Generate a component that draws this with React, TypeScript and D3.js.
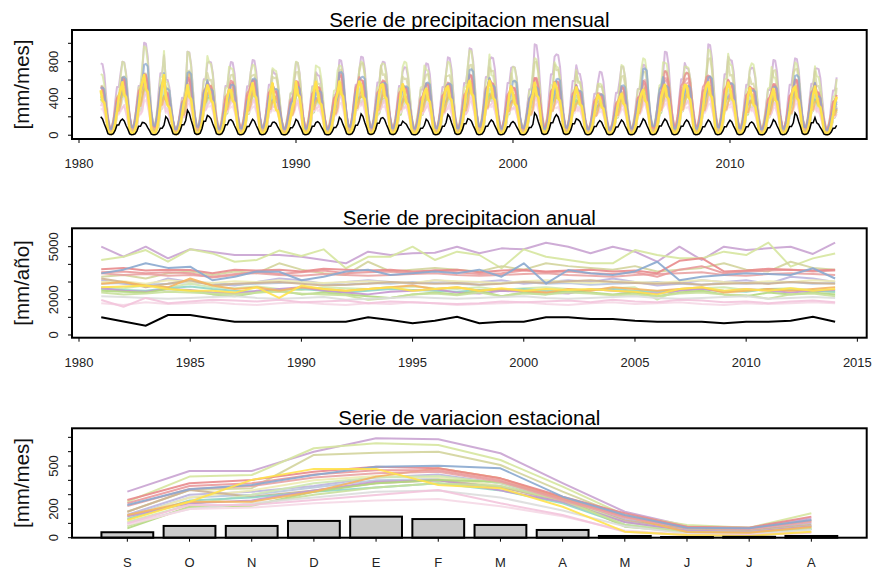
import React, { useRef, useEffect } from "react";
import * as d3 from "d3";

const years = d3.range(1981, 2015);
const monthLabels = ["S", "O", "N", "D", "E", "F", "M", "A", "M", "J", "J", "A"];

// pico mensual de cada año (envolvente superior del panel mensual)
const peakByYear = [782, 800, 1006, 608, 909, 800, 796, 818, 709, 800, 745, 818, 854, 800, 800, 782, 847,
  945, 847, 745, 989, 880, 673, 690, 763, 836, 909, 745, 989, 818, 782, 818, 836, 727];

// serie de referencia (negro / barras)
const seasBlack = [38, 82, 82, 117, 147, 130, 89, 54, 12, 5, 6, 12];
const annBlack = [1000, 760, 530, 1130, 1130, 930, 755, 755, 755, 755, 755, 755, 1000, 850, 661, 812, 1038,
  661, 755, 755, 1000, 1000, 906, 906, 812, 755, 755, 755, 661, 755, 755, 812, 1038, 755];

// estaciones (ciclo estacional S..A y total anual 1981-2014)
const seasLavender = [321, 465, 465, 600, 694, 687, 589, 380, 181, 82, 70, 135];
const annLavender = [5000, 4434, 5000, 4342, 4853, 4700, 4530, 4530, 4530, 4434, 4250, 4060, 4717, 4530, 4625, 4660, 5000,
  4625, 4906, 4853, 5226, 5000, 4625, 5000, 4717, 4150, 5000, 4250, 5000, 4810, 4906, 5000, 4590, 5226];
const seasYGreen = [251, 426, 437, 624, 658, 647, 542, 356, 158, 89, 70, 170];
const annYGreen = [4250, 4430, 4810, 4150, 4850, 4620, 4150, 4250, 4780, 4470, 4850, 3780, 4430, 4430, 5000, 4250, 4720,
  4530, 3780, 4850, 4430, 4250, 4060, 4060, 4810, 4530, 4340, 4340, 4720, 4530, 5230, 3870, 4340, 4620];
const seasKhaki = [181, 333, 345, 577, 593, 600, 507, 321, 147, 77, 70, 120];
const annKhaki = [3300, 3400, 3200, 3500, 3600, 3400, 3600, 3500, 4060, 3700, 3500, 3400, 4150, 3600, 3700, 3800, 3700,
  3600, 3900, 3700, 4060, 3900, 3800, 3700, 3900, 3600, 3700, 3800, 4060, 3700, 3600, 4150, 3800, 3700];
const seasRed1 = [263, 380, 403, 460, 495, 484, 414, 286, 170, 77, 70, 147];
const annRed1 = [3720, 3800, 3650, 3700, 3680, 3500, 3700, 3650, 3700, 3600, 3750, 3700, 3650, 3700, 3600, 3650, 3700,
  3550, 3650, 3700, 3600, 3650, 3700, 3600, 3650, 3500, 4200, 4350, 3600, 3650, 3750, 3700, 3650, 3700];
const seasRed2 = [240, 360, 380, 440, 470, 470, 400, 270, 150, 70, 65, 120];
const annRed2 = [3550, 3600, 3500, 3550, 3500, 3250, 3400, 3600, 3450, 3550, 3650, 3500, 3550, 3600, 3500, 3650, 3550,
  3450, 3500, 3650, 3550, 3600, 3500, 3450, 3550, 3300, 3700, 3900, 3500, 3600, 3650, 3700, 3600, 3650];
const seasRed3 = [220, 340, 360, 420, 450, 460, 390, 260, 140, 70, 60, 110];
const annRed3 = [3500, 3400, 3450, 3350, 3400, 3300, 3450, 3500, 3400, 3350, 3450, 3400, 3350, 3400, 3450, 3500, 3400,
  3350, 3400, 3450, 3500, 3400, 3350, 3300, 3400, 3450, 3500, 3550, 3400, 3350, 3450, 3500, 3450, 3400];
const seasBlue = [228, 338, 368, 437, 495, 502, 484, 286, 158, 70, 66, 123];
const annBlue = [3490, 3700, 4060, 3800, 3870, 3100, 3300, 3600, 3580, 3100, 3300, 3600, 3700, 3400, 3500, 3600, 3500,
  3700, 3300, 4060, 2910, 3680, 3500, 3400, 3600, 4150, 3100, 3300, 3400, 3500, 3450, 3400, 3780, 3200];
const seasLilac = [160, 300, 320, 360, 420, 440, 380, 250, 130, 60, 50, 100];
const annLilac = [3100, 2900, 2800, 3200, 3000, 2900, 2800, 3000, 3200, 3100, 2900, 3000, 3100, 3000, 2900, 3100, 3000,
  3000, 3100, 2900, 3000, 3100, 3000, 3200, 3000, 2800, 2900, 3100, 3000, 3100, 2900, 3300, 3200, 3000];
const seasSteel = [150, 280, 300, 350, 400, 410, 360, 250, 110, 50, 40, 80];
const annSteel = [2900, 2950, 2850, 2900, 3000, 2950, 2850, 2900, 2950, 3000, 2900, 2850, 2950, 2900, 3000, 2950, 2900,
  2850, 2950, 3000, 2900, 2950, 2850, 2900, 2950, 3000, 2900, 2850, 2950, 2900, 2950, 3000, 2900, 2950];
const seasOrange = [158, 251, 251, 321, 426, 484, 414, 275, 147, 40, 35, 75];
const annOrange = [2900, 3000, 2800, 2700, 3200, 2800, 2600, 2700, 2500, 2700, 2600, 2500, 2600, 2700, 2800, 2600, 2700,
  2500, 2600, 2500, 2400, 2600, 2500, 2700, 2600, 2500, 2600, 2700, 2400, 2500, 2600, 2500, 2600, 2700];
const seasTan = [181, 333, 286, 330, 380, 400, 350, 260, 120, 60, 50, 90];
const annTan = [3200, 3000, 2700, 2900, 3100, 2800, 2900, 2950, 3000, 2900, 2800, 2850, 2900, 3000, 2950, 2900, 2950,
  2850, 2900, 3000, 2950, 3050, 3100, 3000, 2950, 2900, 2950, 2850, 2900, 2950, 2900, 3000, 2950, 2900];
const seasLtYellow = [140, 280, 330, 400, 430, 420, 360, 250, 110, 50, 40, 90];
const annLtYellow = [3000, 3050, 2900, 3100, 3000, 2950, 3050, 3000, 3100, 3000, 2950, 3000, 3050, 3000, 2950, 3100, 3050,
  3000, 2950, 3050, 3100, 3000, 2950, 3050, 3000, 2950, 3050, 3100, 3000, 2950, 3050, 3000, 3100, 3050];
const seasLtGreen = [110, 230, 300, 380, 420, 430, 380, 270, 110, 50, 40, 80];
const annLtGreen = [2700, 2650, 2800, 2700, 2900, 2700, 2650, 2750, 2600, 2550, 2700, 2650, 2600, 2700, 2750, 2650, 2600,
  2700, 2550, 2650, 2700, 2600, 2550, 2650, 2700, 2000, 2600, 2650, 2700, 2550, 2600, 2650, 2550, 2400];
const seasTeal = [130, 260, 280, 320, 350, 380, 330, 240, 90, 40, 30, 60];
const annTeal = [2600, 2550, 2500, 2650, 2750, 2600, 2500, 2450, 2550, 2600, 2500, 2400, 2500, 2600, 2550, 2500, 2450,
  2550, 2500, 2600, 2500, 2450, 2550, 2600, 2500, 2450, 2550, 2600, 2500, 2450, 2600, 2550, 2500, 2450];
const seasPurple = [150, 240, 260, 330, 390, 400, 330, 250, 110, 50, 40, 80];
const annPurple = [2650, 2500, 2450, 2600, 2550, 2400, 2350, 2500, 2600, 2700, 2500, 2400, 2300, 2450, 2500, 2600, 2400,
  2350, 2500, 2450, 2400, 2350, 2600, 2500, 2400, 2350, 2500, 2600, 2450, 2600, 2500, 2400, 2500, 2550];
const seasGreen = [65, 216, 222, 321, 380, 403, 391, 275, 77, 40, 30, 60];
const annGreen = [2500, 2450, 2400, 2600, 2500, 2300, 2200, 2400, 2500, 2300, 2400, 2300, 2200, 2100, 2300, 2400, 2300,
  2500, 2200, 2400, 2300, 2500, 2400, 2300, 2400, 2200, 2400, 2500, 2300, 2200, 2400, 2300, 2400, 2300];
const seasLime = [80, 210, 230, 300, 350, 380, 360, 260, 90, 40, 35, 70];
const annLime = [2400, 2300, 2350, 2450, 2400, 2350, 2300, 2400, 2450, 2350, 2300, 2250, 2000, 2100, 2300, 2350, 2250,
  2400, 2200, 2350, 2300, 2400, 2350, 2250, 2300, 2200, 2350, 2400, 2300, 2250, 2050, 2300, 2350, 2200];
const seasGray = [100, 200, 240, 280, 320, 330, 280, 190, 80, 30, 25, 55];
const annGray = [2200, 2150, 2100, 2050, 2100, 2150, 2200, 2100, 2050, 2100, 2150, 2000, 2050, 2100, 2150, 2100, 2050,
  2100, 2150, 2200, 2100, 2050, 2100, 2150, 2200, 2100, 2050, 2100, 2150, 2200, 2050, 2100, 2150, 2100];
const seasPink = [100, 228, 228, 263, 298, 333, 240, 158, 42, 19, 19, 35];
const annPink = [1980, 1600, 2100, 1800, 1900, 2000, 1950, 1900, 2000, 1850, 1900, 1950, 1800, 1900, 1850, 1800, 1750,
  1800, 1900, 1850, 1900, 1950, 1850, 2000, 1900, 1850, 2000, 1950, 1850, 1900, 1800, 1900, 1950, 1850];
const seasLtPink = [90, 200, 210, 240, 260, 270, 220, 150, 50, 20, 20, 40];
const annLtPink = [1800, 1700, 1850, 1750, 1800, 1850, 1750, 1700, 1800, 1850, 1750, 1700, 1800, 1750, 1850, 1800, 1700,
  1750, 1800, 1850, 1750, 1700, 1800, 1850, 1750, 1800, 1850, 1750, 1700, 1800, 1750, 1800, 1850, 1800];
const seasYellow = [124, 251, 403, 480, 480, 368, 345, 216, 42, 19, 12, 42];
const annYellow = [2700, 2750, 2800, 2600, 2500, 2500, 2400, 2700, 2100, 2800, 2600, 2500, 2600, 2700, 2500, 2600, 2700,
  2500, 2650, 2500, 2600, 2550, 2600, 2500, 2450, 2300, 2600, 2700, 2500, 2600, 2500, 2650, 2500, 2600];

const stations = [
  { color: "#C9A3D2", seas: seasLavender, ann: annLavender },
  { color: "#D6E59E", seas: seasYGreen, ann: annYGreen },
  { color: "#D3D49C", seas: seasKhaki, ann: annKhaki },
  { color: "#BDB5DE", seas: seasLilac, ann: annLilac },
  { color: "#B9C7DD", seas: seasSteel, ann: annSteel },
  { color: "#EEEBB2", seas: seasLtYellow, ann: annLtYellow },
  { color: "#CDB393", seas: seasTan, ann: annTan },
  { color: "#CFE8B0", seas: seasLtGreen, ann: annLtGreen },
  { color: "#8FD5C6", seas: seasTeal, ann: annTeal },
  { color: "#C497CF", seas: seasPurple, ann: annPurple },
  { color: "#B3D880", seas: seasGreen, ann: annGreen },
  { color: "#C8E09C", seas: seasLime, ann: annLime },
  { color: "#DDDDDD", seas: seasGray, ann: annGray },
  { color: "#F5D8E6", seas: seasLtPink, ann: annLtPink },
  { color: "#F3C4DB", seas: seasPink, ann: annPink },
  { color: "#F5B560", seas: seasOrange, ann: annOrange },
  { color: "#E9A3A3", seas: seasRed3, ann: annRed3 },
  { color: "#EA9A9C", seas: seasRed2, ann: annRed2 },
  { color: "#E8898C", seas: seasRed1, ann: annRed1 },
  { color: "#8AA8CF", seas: seasBlue, ann: annBlue },
  { color: "#FFE24D", seas: seasYellow, ann: annYellow },
];

const FONT = "'Liberation Sans', Arial, sans-serif";
const W = 875;
const H = 571;
const L = 72;
const R = 866.7;

export default function App() {
  const ref = useRef<SVGSVGElement>(null);

  useEffect(() => {
    const svg = d3.select(ref.current);
    svg.selectAll("*").remove();

    // factor anual para que la envolvente mensual siga los picos leidos
    const kYear = years.map((_, yi) => {
      const maxPred = d3.max(stations, s => (d3.max(s.seas)! / d3.sum(s.seas)) * s.ann[yi])!;
      return peakByYear[yi] / maxPred;
    });
    const monthly = (seas: number[], ann: number[]) => {
      const tot = d3.sum(seas);
      const out: { t: number; v: number }[] = [];
      years.forEach((yr, yi) => {
        for (let c = 0; c < 12; c++) {
          out.push({ t: yr + c / 12, v: (seas[(c + 4) % 12] / tot) * ann[yi] * kYear[yi] });
        }
      });
      return out;
    };

    const yAxisLeft = (g, y, ticks: number[], labels: number[]) => {
      g.append("g").selectAll("line").data(ticks).enter().append("line")
        .attr("x1", L - 4).attr("x2", L).attr("y1", d => y(d)).attr("y2", d => y(d))
        .attr("stroke", "#000").attr("stroke-width", 1);
      g.append("g").selectAll("text").data(labels).enter().append("text")
        .attr("transform", d => `translate(57.5,${y(d)}) rotate(-90)`)
        .attr("text-anchor", "middle")
        .style("font-family", FONT).style("font-size", "13px").style("fill", "#222")
        .text(d => d);
    };
    const xTicks = (g, xs: number[], labels: string[], bottom: number) => {
      g.append("g").selectAll("line").data(xs).enter().append("line")
        .attr("x1", d => d).attr("x2", d => d).attr("y1", bottom).attr("y2", bottom + 4)
        .attr("stroke", "#000").attr("stroke-width", 1);
      g.append("g").selectAll("text").data(xs).enter().append("text")
        .attr("x", d => d).attr("y", bottom + 29)
        .attr("text-anchor", "middle")
        .style("font-family", FONT).style("font-size", "13px").style("fill", "#222")
        .text((d, i) => labels[i]);
    };
    const frame = (g, top: number, bottom: number, title: string, ylab: string) => {
      g.append("rect").attr("x", L).attr("y", top).attr("width", R - L).attr("height", bottom - top)
        .attr("fill", "none").attr("stroke", "#000").attr("stroke-width", 2);
      g.append("text").attr("x", (L + R) / 2).attr("y", top - 3.5).attr("text-anchor", "middle")
        .style("font-family", FONT).style("font-size", "20.5px").style("fill", "#000").text(title);
      g.append("text").attr("transform", `translate(29,${(top + bottom) / 2}) rotate(-90)`)
        .attr("text-anchor", "middle")
        .style("font-family", FONT).style("font-size", "20.5px").style("fill", "#111").text(ylab);
    };

    // Panel 1: serie mensual
    {
      const top = 30, bottom = 139;
      const x = d3.scaleLinear().domain([1979.677, 2016.3]).range([L, R]);
      const y = d3.scaleLinear().domain([-41.3, 1144.7]).range([bottom, top]);
      const g = svg.append("g");
      const line = d3.line<{ t: number; v: number }>().x(d => x(d.t)).y(d => y(d.v));
      stations.forEach(s => {
        const isYellow = s.color === "#FFE24D";
        g.append("path").attr("d", line(monthly(s.seas, s.ann)))
          .attr("fill", "none").attr("stroke", s.color).attr("stroke-width", isYellow ? 2.6 : 2)
          .attr("stroke-opacity", isYellow ? 1 : 0.75).attr("stroke-linejoin", "round");
      });
      g.append("path").attr("d", line(monthly(seasBlack, annBlack)))
        .attr("fill", "none").attr("stroke", "#000").attr("stroke-width", 1.5);
      yAxisLeft(g, y, [0, 200, 400, 600, 800, 1000], [0, 400, 800]);
      xTicks(g, [1980, 1990, 2000, 2010].map(x), ["1980", "1990", "2000", "2010"], bottom);
      frame(g, top, bottom, "Serie de precipitacion mensual", "[mm/mes]");
    }

    // Panel 2: serie anual
    {
      const top = 228.3, bottom = 337.7;
      const x = d3.scaleLinear().domain([1979.685, 2015.42]).range([L, R]);
      const y = d3.scaleLinear().domain([-153, 6042]).range([bottom, top]);
      const g = svg.append("g");
      const line = d3.line<number>().x((d, i) => x(years[i])).y(d => y(d));
      stations.forEach(s => {
        g.append("path").attr("d", line(s.ann))
          .attr("fill", "none").attr("stroke", s.color).attr("stroke-width", 2)
          .attr("stroke-opacity", 0.9).attr("stroke-linejoin", "round");
      });
      g.append("path").attr("d", line(annBlack))
        .attr("fill", "none").attr("stroke", "#000").attr("stroke-width", 2);
      yAxisLeft(g, y, [0, 1000, 2000, 3000, 4000, 5000], [0, 2000, 5000]);
      const xt = d3.range(1980, 2016, 5);
      xTicks(g, xt.map(x), xt.map(String), bottom);
      frame(g, top, bottom, "Serie de precipitacion anual", "[mm/año]");
    }

    // Panel 3: variacion estacional
    {
      const top = 428.3, bottom = 537.7;
      const xl = d3.scaleLinear().domain([-0.368, 14.968]).range([L, R]);
      const x = d3.scaleBand<number>().domain(d3.range(12)).range([xl(0.2), xl(14.4)]).paddingInner(1 / 6);
      const cx = (i: number) => x(i)! + x.bandwidth() / 2;
      const y = d3.scaleLinear().domain([0, 763]).range([bottom, top]);
      const g = svg.append("g");
      const line = d3.line<number>().x((d, i) => cx(i)).y(d => y(d));
      stations.forEach(s => {
        g.append("path").attr("d", line(s.seas))
          .attr("fill", "none").attr("stroke", s.color).attr("stroke-width", 2)
          .attr("stroke-opacity", 0.9).attr("stroke-linejoin", "round");
      });
      g.append("g").selectAll("rect").data(seasBlack).enter().append("rect")
        .attr("x", (d, i) => x(i)!).attr("y", d => y(d))
        .attr("width", x.bandwidth()).attr("height", d => y(0) - y(d))
        .attr("fill", "#CBCBCB").attr("stroke", "#000").attr("stroke-width", 2);
      yAxisLeft(g, y, d3.range(0, 800, 100), [0, 200, 500]);
      xTicks(g, d3.range(12).map(cx), monthLabels, bottom);
      frame(g, top, bottom, "Serie de variacion estacional", "[mm/mes]");
    }
  }, []);

  return (
    <svg ref={ref} width={W} height={H}
      style={{ position: "absolute", left: 0, top: 0, background: "#fff" }} />
  );
}
